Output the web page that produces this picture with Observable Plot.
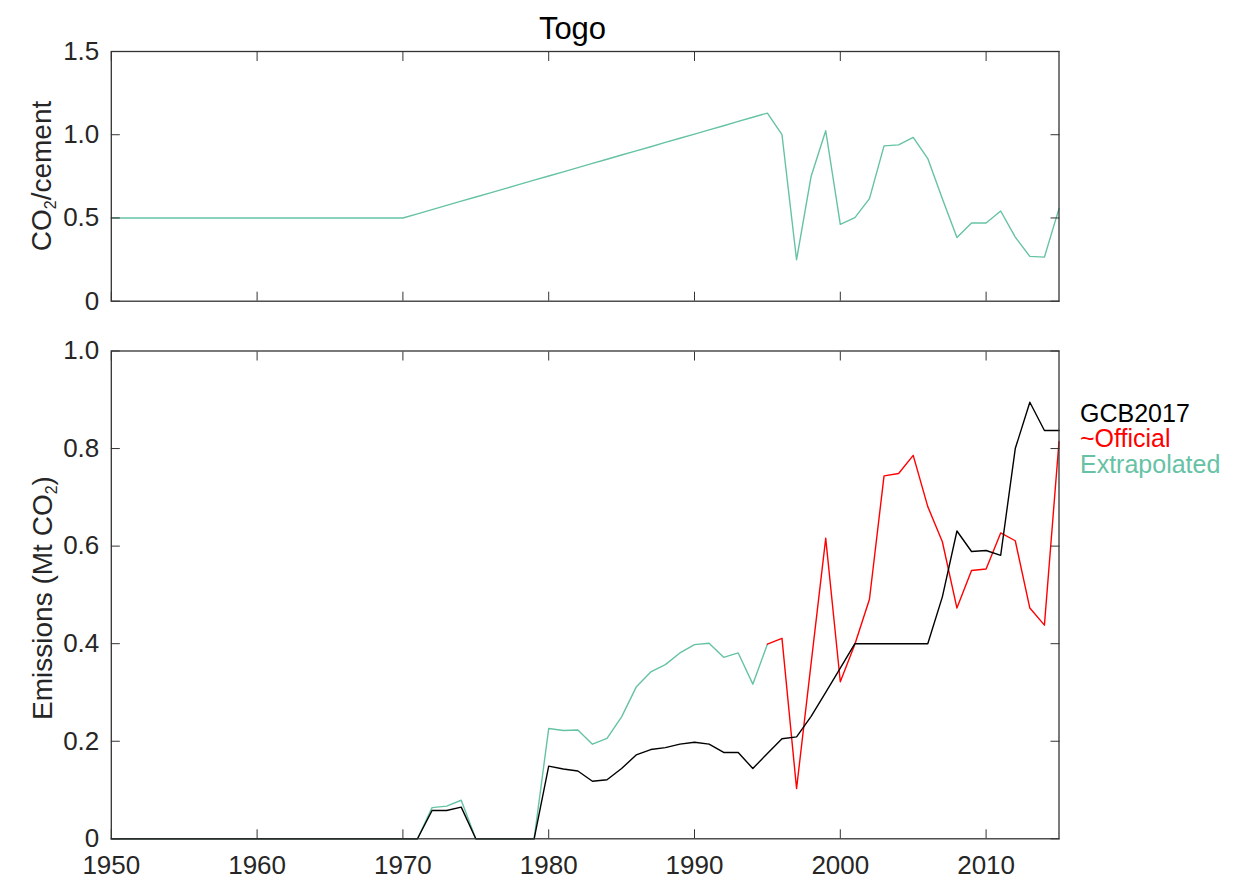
<!DOCTYPE html>
<html><head><meta charset="utf-8">
<script src="https://cdn.jsdelivr.net/npm/d3@7"></script>
<script src="https://cdn.jsdelivr.net/npm/@observablehq/plot@0.6"></script>
<style>
html,body{margin:0;padding:0;background:#fff;}
#wrap{position:relative;width:1256px;height:895px;font-family:"Liberation Sans",Arial,Helvetica,sans-serif;}
#wrap svg{position:absolute;left:0;}
</style></head><body><div id="wrap"></div>
<script>
// ---------------- data ----------------
const years = [1950,1951,1952,1953,1954,1955,1956,1957,1958,1959,
  1960,1961,1962,1963,1964,1965,1966,1967,1968,1969,
  1970,1971,1972,1973,1974,1975,1976,1977,1978,1979,
  1980,1981,1982,1983,1984,1985,1986,1987,1988,1989,
  1990,1991,1992,1993,1994,1995,1996,1997,1998,1999,
  2000,2001,2002,2003,2004,2005,2006,2007,2008,2009,
  2010,2011,2012,2013,2014,2015];

// CO2 per cement ratio (top panel)
const cementRatio = [0.5,0.5,0.5,0.5,0.5,0.5,0.5,0.5,0.5,0.5,
  0.5,0.5,0.5,0.5,0.5,0.5,0.5,0.5,0.5,0.5,
  0.5,0.525,0.55,0.576,0.601,0.626,0.651,0.676,0.702,0.727,
  0.752,0.777,0.802,0.828,0.853,0.878,0.903,0.928,0.954,0.979,
  1.004,1.029,1.054,1.08,1.105,1.13,1.0,0.249,0.751,1.024,
  0.462,0.502,0.616,0.933,0.939,0.984,0.857,0.615,0.382,0.47,
  0.47,0.542,0.385,0.269,0.265,0.556];

// GCB2017 emissions (Mt CO2)
const gcb2017 = [0,0,0,0,0,0,0,0,0,0,
  0,0,0,0,0,0,0,0,0,0,
  0,0,0.058,0.058,0.065,0,0,0,0,0,
  0.149,0.143,0.139,0.118,0.121,0.144,0.172,0.183,0.187,0.194,
  0.198,0.194,0.177,0.177,0.144,0.175,0.205,0.209,0.251,0.3,
  0.35,0.4,0.4,0.4,0.4,0.4,0.4,0.496,0.631,0.589,
  0.591,0.581,0.8,0.895,0.837,0.837];

// Extrapolated emissions, 1950-1995
const extrapYears = [1950,1951,1952,1953,1954,1955,1956,1957,1958,1959,
  1960,1961,1962,1963,1964,1965,1966,1967,1968,1969,
  1970,1971,1972,1973,1974,1975,1976,1977,1978,1979,
  1980,1981,1982,1983,1984,1985,1986,1987,1988,1989,
  1990,1991,1992,1993,1994,1995];
const extrapolated = [0,0,0,0,0,0,0,0,0,0,
  0,0,0,0,0,0,0,0,0,0,
  0,0,0.064,0.067,0.079,0,0,0,0,0,
  0.226,0.222,0.223,0.194,0.206,0.25,0.311,0.342,0.357,0.381,
  0.398,0.401,0.372,0.381,0.317,0.399];

// ~Official emissions, 1995-2015
const officialYears = [1995,1996,1997,1998,1999,2000,2001,2002,2003,2004,
  2005,2006,2007,2008,2009,2010,2011,2012,2013,2014,2015];
const official = [0.399,0.411,0.103,0.36,0.616,0.322,0.399,0.491,0.744,0.749,
  0.786,0.681,0.609,0.473,0.55,0.553,0.627,0.611,0.473,0.438,0.814];

const decadeTicks = [1950,1960,1970,1980,1990,2000,2010];
const topYTicks = [0,0.5,1.0,1.5];
const bottomYTicks = [0,0.2,0.4,0.6,0.8,1.0];
const seriesNames = ["GCB2017","~Official","Extrapolated"];
const seriesColors = ["#000000","#ff0000","#66c2a5"];
const titleText = "Togo";

// ---------------- plotting ----------------
const fmt = d => d === 0 ? "0" : d.toFixed(1);
const blank = () => "";
const axisColor = "#333333";
const FONT = "'Liberation Sans', Arial, Helvetica, sans-serif";
const common = {
  width: 1256, marginLeft: 110.8, marginRight: 197.5,
  style: {fontFamily: FONT, fontSize: "26px", color: "#262626", background: "transparent", overflow: "visible"},
  x: {domain: [1950, 2015]}
};
const rows = (xs, vs) => xs.map((x, i) => ({year: x, v: vs[i]}));

function frameMarks(yTicks, withXLabels) {
  const m = [
    Plot.axisX(decadeTicks, {anchor: "bottom", tickSize: -9, tickFormat: blank, stroke: axisColor, label: null}),
    Plot.axisX(decadeTicks, {anchor: "top", tickSize: -9, tickFormat: blank, stroke: axisColor, label: null}),
    Plot.axisY(yTicks, {anchor: "left", tickSize: -9, tickFormat: blank, stroke: axisColor, label: null}),
    Plot.axisY(yTicks, {anchor: "right", tickSize: -9, tickFormat: blank, stroke: axisColor, label: null}),
    Plot.axisY(yTicks, {anchor: "left", tickSize: 0, tickPadding: 12, tickFormat: fmt, fill: "#262626", label: null}),
    Plot.frame({stroke: axisColor, strokeWidth: 1.3})
  ];
  if (withXLabels) m.push(Plot.axisX(decadeTicks, {anchor: "bottom", tickSize: 0, tickPadding: 17, tickFormat: d => String(d), fill: "#262626", label: null}));
  return m;
}

const topPlot = Plot.plot({
  ...common,
  height: 320, marginTop: 51, marginBottom: 19.3,
  y: {domain: [0, 1.5]},
  marks: [
    Plot.line(rows(years, cementRatio), {x: "year", y: "v", stroke: seriesColors[2], strokeWidth: 1.4}),
    ...frameMarks(topYTicks, false)
  ]
});

const bottomPlot = Plot.plot({
  ...common,
  height: 575, marginTop: 30.5, marginBottom: 56.7,
  y: {domain: [0, 1.0]},
  marks: [
    Plot.line(rows(extrapYears, extrapolated), {x: "year", y: "v", stroke: seriesColors[2], strokeWidth: 1.4}),
    Plot.line(rows(officialYears, official), {x: "year", y: "v", stroke: seriesColors[1], strokeWidth: 1.4}),
    Plot.line(rows(years, gcb2017), {x: "year", y: "v", stroke: seriesColors[0], strokeWidth: 1.4}),
    ...frameMarks(bottomYTicks, true)
  ]
});

const wrap = document.getElementById("wrap");
topPlot.style.top = "0px";
bottomPlot.style.top = "320px";
wrap.appendChild(topPlot);
wrap.appendChild(bottomPlot);

// ---------------- titles, labels, legend ----------------
const ov = d3.select(wrap).append("svg")
  .attr("width", 1256).attr("height", 895)
  .style("top", "0px").style("pointer-events", "none")
  .style("font-family", FONT);

ov.append("text").attr("x", 572.5).attr("y", 39).attr("text-anchor", "middle")
  .attr("font-size", 31).attr("fill", "#000").text(titleText);

function yLabel(x, y, parts) {
  const t = ov.append("text").attr("transform", `translate(${x},${y}) rotate(-90)`)
    .attr("text-anchor", "middle").attr("font-size", 28).attr("fill", "#262626");
  parts.forEach(([s, sub]) => {
    const ts = t.append("tspan").text(s);
    if (sub) ts.attr("font-size", 16).attr("dy", 5);
    else if (t.selectAll("tspan").size() > 1) ts.attr("dy", -5);
  });
}
yLabel(51, 176, [["CO"], ["2", true], ["/cement"]]);
yLabel(52, 598, [["Emissions (Mt CO"], ["2", true], [")"]]);

const lg = ov.append("g").attr("font-size", 25);
seriesNames.forEach((name, i) => {
  lg.append("text").attr("x", 1080).attr("y", 421.7 + i * 25.4)
    .attr("fill", seriesColors[i]).text(name);
});
</script>
</body></html>
